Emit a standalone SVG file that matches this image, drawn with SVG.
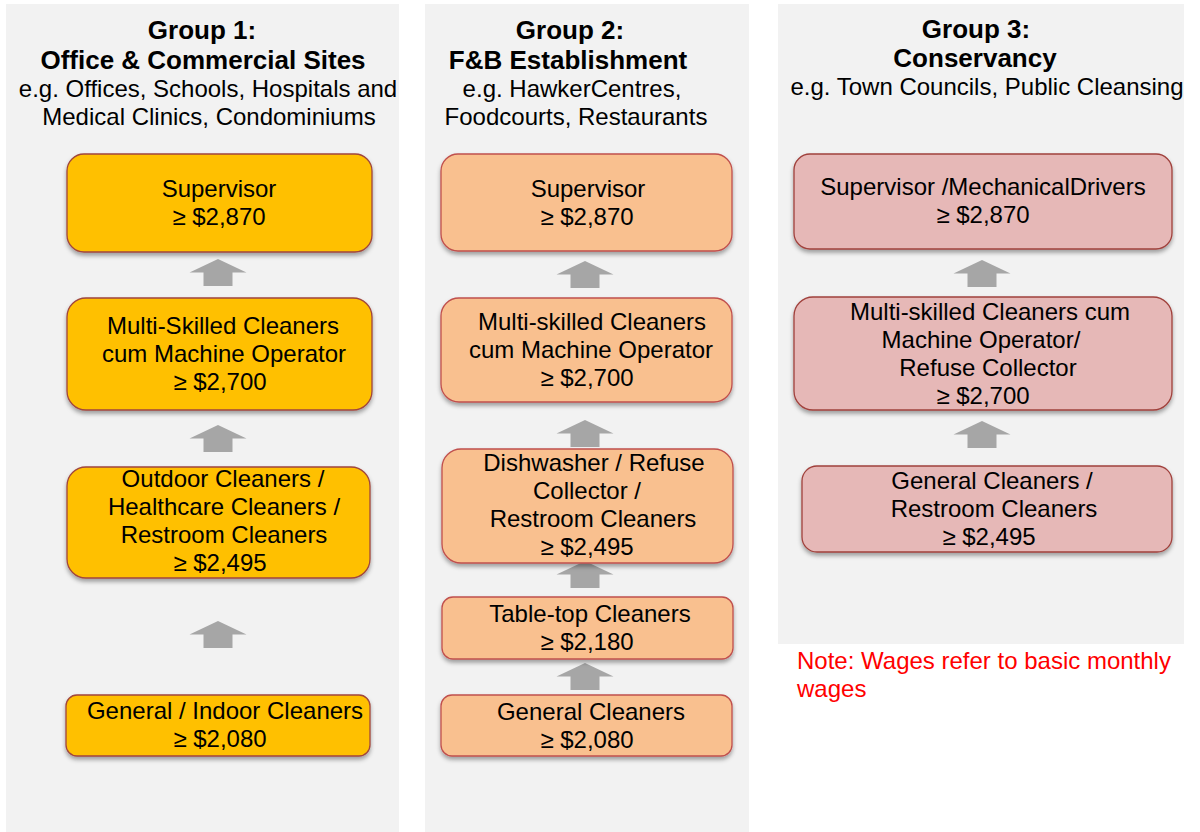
<svg xmlns="http://www.w3.org/2000/svg" xmlns:xlink="http://www.w3.org/1999/xlink" width="1200" height="832" viewBox="0 0 1200 832">
<style>
text{font-family:"Liberation Sans",Arial,sans-serif;fill:#000;text-anchor:middle}
.h{font-size:26px;font-weight:bold}
.s{font-size:24px}
.t{font-size:24px}
.note{font-size:24px;fill:#FF0000;text-anchor:start}
.panel{fill:#F2F2F2}
.b1{fill:#FFC000;stroke:#A0463C;stroke-width:1.3}
.b2{fill:#F9C08F;stroke:#C0504D;stroke-width:1.3}
.b3{fill:#E6B8B7;stroke:#A0413C;stroke-width:1.3}
.arr{fill:#A6A6A6}
</style>
<defs>
<filter id="sh" x="-10%" y="-10%" width="120%" height="130%">
<feDropShadow dx="0" dy="3" stdDeviation="2" flood-color="#000" flood-opacity="0.35"/>
</filter>
<path id="arrow" d="M0,0 L28.5,13.5 L14.5,13.5 L14.5,27 L-14.5,27 L-14.5,13.5 L-28.5,13.5 Z"/>
</defs>
<rect class="panel" x="6" y="4" width="393" height="828"/>
<rect class="panel" x="425" y="4" width="324" height="828"/>
<rect class="panel" x="778" y="4" width="406" height="640"/>

<g id="header1">
<text class="h" x="202" y="39">Group 1:</text>
<text class="h" x="203" y="69">Office &amp; Commercial Sites</text>
<text class="s" x="208" y="97">e.g. Offices, Schools, Hospitals and</text>
<text class="s" x="209" y="125">Medical Clinics, Condominiums</text>
</g>
<g id="header2">
<text class="h" x="570" y="39">Group 2:</text>
<text class="h" x="568" y="69">F&amp;B Establishment</text>
<text class="s" x="572" y="97">e.g. HawkerCentres,</text>
<text class="s" x="576" y="125">Foodcourts, Restaurants</text>
</g>
<g id="header3">
<text class="h" x="976" y="38">Group 3:</text>
<text class="h" x="975" y="67">Conservancy</text>
<text class="s" x="987" y="95">e.g. Town Councils, Public Cleansing</text>
</g>

<g id="connectors" class="arr">
<use xlink:href="#arrow" x="218" y="259"/>
<use xlink:href="#arrow" x="218" y="425"/>
<use xlink:href="#arrow" x="218" y="621"/>
<use xlink:href="#arrow" x="585" y="261"/>
<use xlink:href="#arrow" x="585" y="420"/>
<use xlink:href="#arrow" x="585" y="561"/>
<use xlink:href="#arrow" x="585" y="663"/>
<use xlink:href="#arrow" x="982" y="260"/>
<use xlink:href="#arrow" x="982" y="421"/>
</g>

<g id="g1-supervisor">
<rect class="b1" filter="url(#sh)" x="67" y="154" width="305" height="98" rx="17"/>
<text class="t" x="219" y="197">Supervisor</text>
<text class="t" x="219" y="225">≥ $2,870</text>
</g>
<g id="g1-multi">
<rect class="b1" filter="url(#sh)" x="67" y="298" width="305" height="112" rx="19"/>
<text class="t" x="223" y="334">Multi-Skilled Cleaners</text>
<text class="t" x="224" y="362">cum Machine Operator</text>
<text class="t" x="220" y="390">≥ $2,700</text>
</g>
<g id="g1-outdoor">
<rect class="b1" filter="url(#sh)" x="67" y="467" width="303" height="111" rx="19"/>
<text class="t" x="223" y="487">Outdoor Cleaners /</text>
<text class="t" x="224" y="515">Healthcare Cleaners /</text>
<text class="t" x="224" y="543">Restroom Cleaners</text>
<text class="t" x="220" y="571">≥ $2,495</text>
</g>
<g id="g1-general">
<rect class="b1" filter="url(#sh)" x="66" y="695" width="304" height="61" rx="11"/>
<text class="t" x="225" y="719">General / Indoor Cleaners</text>
<text class="t" x="220" y="747">≥ $2,080</text>
</g>

<g id="g2-supervisor">
<rect class="b2" filter="url(#sh)" x="441" y="154" width="291" height="97" rx="17"/>
<text class="t" x="588" y="197">Supervisor</text>
<text class="t" x="587" y="225">≥ $2,870</text>
</g>
<g id="g2-multi">
<rect class="b2" filter="url(#sh)" x="441" y="298" width="291" height="104" rx="18"/>
<text class="t" x="592" y="330">Multi-skilled Cleaners</text>
<text class="t" x="591" y="358">cum Machine Operator</text>
<text class="t" x="587" y="386">≥ $2,700</text>
</g>
<g id="g2-dishwasher">
<rect class="b2" filter="url(#sh)" x="442" y="449" width="291" height="114" rx="19"/>
<text class="t" x="594" y="471">Dishwasher / Refuse</text>
<text class="t" x="587" y="499">Collector /</text>
<text class="t" x="593" y="527">Restroom Cleaners</text>
<text class="t" x="587" y="555">≥ $2,495</text>
</g>
<g id="g2-tabletop">
<rect class="b2" filter="url(#sh)" x="442" y="597" width="291" height="62" rx="11"/>
<text class="t" x="590" y="622">Table-top Cleaners</text>
<text class="t" x="587" y="650">≥ $2,180</text>
</g>
<g id="g2-general">
<rect class="b2" filter="url(#sh)" x="441" y="695" width="291" height="61" rx="11"/>
<text class="t" x="591" y="720">General Cleaners</text>
<text class="t" x="587" y="748">≥ $2,080</text>
</g>

<g id="g3-supervisor">
<rect class="b3" filter="url(#sh)" x="794" y="154" width="378" height="95" rx="16"/>
<text class="t" x="983" y="195">Supervisor /MechanicalDrivers</text>
<text class="t" x="983" y="223">≥ $2,870</text>
</g>
<g id="g3-multi">
<rect class="b3" filter="url(#sh)" x="794" y="297" width="378" height="113" rx="19"/>
<text class="t" x="990" y="320">Multi-skilled Cleaners cum</text>
<text class="t" x="981" y="348">Machine Operator/</text>
<text class="t" x="988" y="376">Refuse Collector</text>
<text class="t" x="983" y="404">≥ $2,700</text>
</g>
<g id="g3-general">
<rect class="b3" filter="url(#sh)" x="802" y="466" width="370" height="86" rx="15"/>
<text class="t" x="992" y="489">General Cleaners /</text>
<text class="t" x="994" y="517">Restroom Cleaners</text>
<text class="t" x="989" y="545">≥ $2,495</text>
</g>

<g id="note">
<text class="note" x="797" y="669">Note: Wages refer to basic monthly</text>
<text class="note" x="797" y="697">wages</text>
</g>
</svg>
